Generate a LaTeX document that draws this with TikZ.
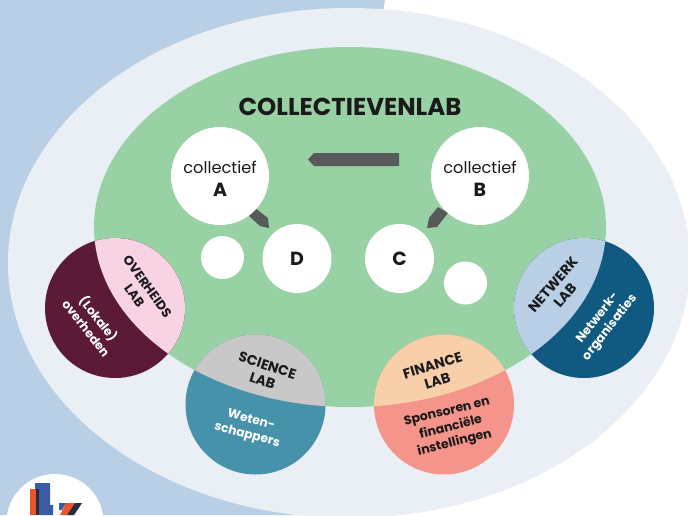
\documentclass[tikz,border=0pt]{standalone}
\usepackage{fontspec}
\setmainfont{Poppins}
\definecolor{bgblue}{HTML}{B9CFE5}
\definecolor{pale}{HTML}{E9EFF4}
\definecolor{labgreen}{HTML}{98D1A3}
\definecolor{maroon}{HTML}{5B1A35}
\definecolor{pinkl}{HTML}{F8D3E3}
\definecolor{greyl}{HTML}{C8C8C8}
\definecolor{teal2}{HTML}{4692AA}
\definecolor{peach}{HTML}{F9CFA9}
\definecolor{salmon2}{HTML}{F4948A}
\definecolor{netblue}{HTML}{B9CFE6}
\definecolor{navy2}{HTML}{105A82}
\definecolor{arrowgrey}{HTML}{58595B}
\definecolor{ink}{HTML}{1A1A1A}
\definecolor{logoblue}{HTML}{3B5BA5}
\definecolor{logoorange}{HTML}{E9562A}
\definecolor{logodark}{HTML}{2B2A3F}
\tikzset{
  whitebig/.style={circle,fill=white,inner sep=0pt,minimum size=98pt,align=center,text=ink,font=\fontsize{16.2}{23}\selectfont},
  whitemid/.style={circle,fill=white,inner sep=0pt,minimum size=69pt,text=ink,font=\fontsize{19}{20}\selectfont\bfseries},
  whitesmall/.style={circle,fill=white,inner sep=0pt,minimum size=43pt},
  labtext/.style={align=center,text=ink,inner sep=0pt,font=\fontsize{13}{16}\selectfont\bfseries},
  widelab/.style={align=center,text=ink,inner sep=0pt,font=\fontsize{14}{16}\selectfont\bfseries},
  sponsortext/.style={align=center,text=ink,inner sep=0pt,font=\fontsize{12.5}{16}\selectfont\bfseries},
  crowdtext/.style={align=center,text=white,inner sep=0pt,font=\fontsize{12.3}{15.5}\selectfont\bfseries},
  pointer/.style={fill=arrowgrey,draw=none}
}
\newcommand{\labdisc}[4]{%
  \coordinate (#1) at (#2);
  \fill[#3] (#1) circle[radius=70pt];
  \begin{scope}
    \clip (#1) circle[radius=70pt];
    \fill[#4] (350,227) ellipse[x radius=256pt,y radius=180pt];
  \end{scope}}
\begin{document}
\begin{tikzpicture}[x=1pt,y=-1pt]
\useasboundingbox (0,0) rectangle (688,515);
\clip (0,0) rectangle (688,515);
\fill[white] (0,0) rectangle (688,515);
\fill[bgblue] (0,0) -- (385,0) -- (300,515) -- (0,515) -- cycle;
\fill[pale] (349,263) ellipse[x radius=341pt,y radius=255pt];
\fill[labgreen] (350,227) ellipse[x radius=256pt,y radius=180pt];
% logo
\fill[white] (55,522.6) circle[radius=48.6pt];
\fill[logoorange] (30,489) rectangle (36,515);
\fill[logodark] (36,489) rectangle (39,515);
\fill[logoblue] (35,483) -- (50,483) -- (50,505) -- (53,505) -- (53,515) -- (39,515) -- (39,489) -- (35,489) -- cycle;
\fill[logoblue] (59,503) -- (66,503) -- (62,510) -- (59,510) -- cycle;
\fill[logoorange] (66,503) -- (75,503) -- (67,515) -- (60,515) -- cycle;
\fill[logodark] (75,503) -- (82,503) -- (74,515) -- (67,515) -- cycle;
% pointers
\fill[pointer] (399,153) -- (314,153) -- (308,159.5) -- (314,166) -- (399,166) -- cycle;
\fill[pointer] (255,208) -- (249,216) -- (260,226) -- (269,228) -- (268,218) -- cycle;
\fill[pointer] (438,207) -- (448,213) -- (437,227) -- (427,228) -- (429,218) -- cycle;
% collectives
\node[whitebig] (A) at (220,176) {};
\node[whitebig] (B) at (480,176) {};
\node[text=ink,inner sep=0pt,font=\fontsize{16.2}{20}\selectfont] (Atxt) at (220,167) {collectief};
\node[text=ink,inner sep=0pt,font=\fontsize{19}{20}\selectfont\bfseries] (Alet) at (220,190) {A};
\node[text=ink,inner sep=0pt,font=\fontsize{16.2}{20}\selectfont] (Btxt) at (480,167) {collectief};
\node[text=ink,inner sep=0pt,font=\fontsize{19}{20}\selectfont\bfseries] (Blet) at (480,190) {B};
\node[whitemid] (D) at (297,258.5) {D};
\node[whitemid] (C) at (399.5,258.5) {C};
\node[whitesmall] (s1) at (222.5,257.5) {};
\node[whitesmall] (s2) at (465.5,283) {};
% title
\node[text=ink,inner sep=0pt,font=\fontsize{24.4}{28}\selectfont\bfseries] (title) at (350,106.5) {COLLECTIEVENLAB};
% labs
\labdisc{ov}{115,308}{maroon}{pinkl}
\labdisc{sc}{255.5,404.5}{teal2}{greyl}
\labdisc{fi}{444,404.5}{salmon2}{peach}
\labdisc{ne}{584,308}{navy2}{netblue}
\node[labtext,rotate=-54] (ovl) at (141,291) {OVERHEIDS\\LAB};
\node[crowdtext,rotate=-52] (ovc) at (93,323) {(Lokale)\\overheden};
\node[widelab,rotate=-18] (scl) at (265,373) {SCIENCE\\LAB};
\node[crowdtext,rotate=-15] (scc) at (249,428) {Weten-\\schappers};
\node[widelab,rotate=17] (fil) at (435,373) {FINANCE\\LAB};
\node[sponsortext,rotate=14] (fic) at (451,428) {Sponsoren en\\financiële\\instellingen};
\node[widelab,rotate=49] (nel) at (559,290) {NETWERK\\LAB};
\node[crowdtext,rotate=52] (nec) at (604,323) {Netwerk-\\organisaties};
\end{tikzpicture}
\end{document}
